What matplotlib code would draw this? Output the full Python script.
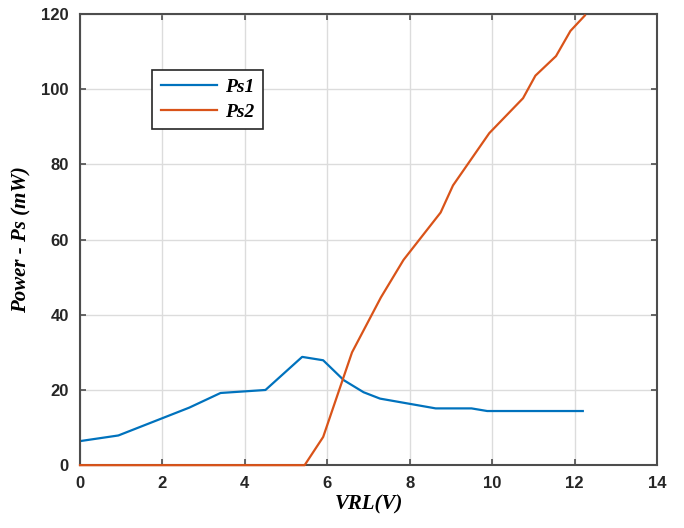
import matplotlib
matplotlib.use("Agg")
import matplotlib.pyplot as plt

# Ps1 - измеренные точки
ps1_x = [0, 0.93, 2.65, 3.41, 4.5, 5.39, 5.9, 6.4, 6.88, 7.28, 8.63, 9.5, 9.88, 12.2]
ps1_y = [6.4, 7.9, 15.3, 19.2, 20.0, 28.8, 27.9, 22.6, 19.4, 17.7, 15.1, 15.1, 14.4, 14.4]

# Ps2
ps2_x = [0, 5.45, 5.9, 6.6, 7.3, 7.85, 8.75, 9.05, 9.93, 10.75, 11.05, 11.55, 11.9, 12.25]
ps2_y = [0, 0, 7.5, 30, 44.6, 54.6, 67.2, 74.4, 88.3, 97.6, 103.6, 108.8, 115.5, 119.6]

fig = plt.figure(figsize=(6.84, 5.28), dpi=100)
ax = fig.add_axes([0.117, 0.119, 0.8435, 0.8545])

ax.plot(ps1_x, ps1_y, color="#0072BD", linewidth=1.6, label="Ps1")
ax.plot(ps2_x, ps2_y, color="#D95319", linewidth=1.6, label="Ps2",
        clip_on=False, zorder=3)

ax.set_xlim(0, 14)
ax.set_ylim(0, 120)
ax.set_xticks(range(0, 15, 2))
ax.set_yticks(range(0, 121, 20))
ax.grid(True, color="#dcdcdc", linewidth=1.0)
ax.set_axisbelow(True)

for s in ax.spines.values():
    s.set_color("#4d4d4d")
    s.set_linewidth(1.5)
    s.set_zorder(2.5)
ax.tick_params(direction="in", length=4, width=1.2, color="#4d4d4d",
               top=True, right=True, labelsize=12, labelcolor="#262626", pad=8)
for lab in ax.get_xticklabels() + ax.get_yticklabels():
    lab.set_fontweight("bold")
    lab.set_fontfamily("Liberation Sans")

lab_font = {"family": "Liberation Serif", "weight": "bold", "style": "italic", "size": 15}
ax.set_xlabel("VRL(V)", fontdict=lab_font, labelpad=2)
ax.set_ylabel("Power - Ps (mW)", fontdict=lab_font, labelpad=7)

leg = ax.legend(loc="upper left", bbox_to_anchor=(0.125, 0.876), borderaxespad=0,
                fancybox=False,
                prop={"family": "Liberation Serif", "weight": "bold", "style": "italic", "size": 14},
                handlelength=2.9, handletextpad=0.4, borderpad=0.45, labelspacing=0.35)
leg.get_frame().set_edgecolor("#262626")
leg.get_frame().set_linewidth(1.2)
leg.get_frame().set_alpha(1)

fig.savefig("out.png", dpi=100)
